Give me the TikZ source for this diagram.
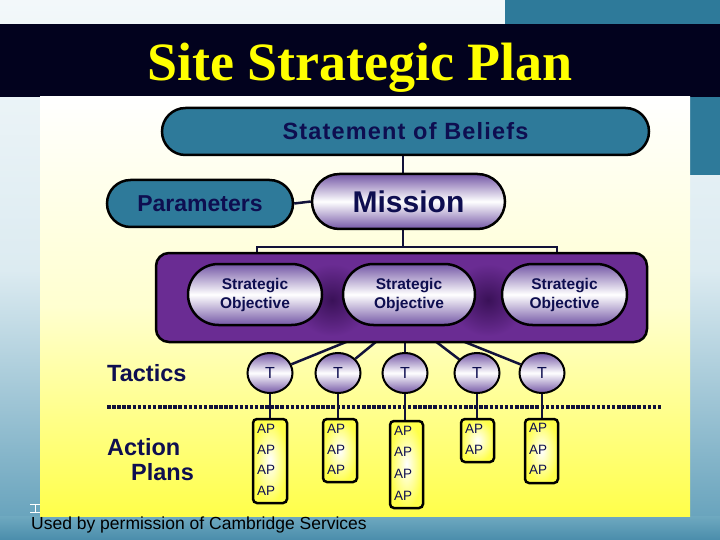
\documentclass[tikz,border=0pt]{standalone}
\usepackage{fontspec}
\setmainfont{Liberation Sans}
\newfontfamily\titlefont{Liberation Serif}
\newfontfamily\spacedfont[LetterSpace=5]{Liberation Sans}
\usetikzlibrary{shapes.misc,shapes.geometric}
\definecolor{teal1}{HTML}{2E7A9A}
\definecolor{navybar}{HTML}{02021E}
\definecolor{txtnavy}{HTML}{0E0E50}
\definecolor{purp}{HTML}{6A2C93}
\definecolor{purpdark}{HTML}{3A1158}
\definecolor{pillp}{HTML}{7457A6}
\definecolor{linec}{HTML}{12123A}
\definecolor{apyel}{HTML}{FFFF4A}
\definecolor{titley}{HTML}{FFFF00}
\definecolor{bgtop}{HTML}{F3F8FA}
\definecolor{bgmid}{HTML}{DCEBF1}
\definecolor{bgbot}{HTML}{5E9DB8}
\definecolor{stripa}{HTML}{6FA9C0}
\definecolor{stripb}{HTML}{4A8DAB}
\definecolor{panelmid}{HTML}{FFFFD0}
\pgfdeclarelayer{bg}
\pgfdeclarelayer{conn}
\pgfsetlayers{bg,conn,main}
\tikzset{
  tealpill/.style={rounded rectangle, draw=black, line width=2.5pt, fill=teal1, inner sep=0pt,
    text=txtnavy, font=\bfseries\fontsize{23}{26}\selectfont},
  purppill/.style={rounded rectangle, draw=black, line width=2.5pt, inner sep=0pt,
    top color=pillp, bottom color=pillp, middle color=white, text=txtnavy},
  sobj/.style={purppill, minimum height=61pt, align=center,
    font=\bfseries\fontsize{15.5}{19}\selectfont},
  tcirc/.style={ellipse, draw=black, line width=2pt, inner sep=0pt, minimum width=45pt, minimum height=40pt,
    top color=pillp, bottom color=pillp, middle color=white, text=txtnavy, font=\fontsize{16}{18}\selectfont},
  apbox/.style={rectangle, rounded corners=4pt, draw=black, line width=2.5pt, inner sep=0pt,
    inner color=white, outer color=apyel},
  aptext/.style={anchor=west, inner sep=0pt, text=txtnavy, font=\fontsize{13.5}{15}\selectfont},
  conn/.style={draw=linec, line width=2.5pt},
  sidelabel/.style={anchor=west, inner sep=0pt, text=txtnavy, font=\bfseries\fontsize{23.5}{26}\selectfont},
  dotline/.style={draw=linec, line width=3.5pt, dash pattern=on 3.5pt off 1.6pt}
}
\begin{document}
\begin{tikzpicture}[x=1pt,y=-1pt]
\useasboundingbox (0,0) rectangle (720,540);
\begin{pgfonlayer}{bg}
  \shade[top color=bgtop, bottom color=bgbot, middle color=bgmid] (0,0) rectangle (720,540);
  \fill[teal1] (505,0) rectangle (720,24);
  \fill[teal1] (690,97) rectangle (720,175);
  \shade[top color=stripa, bottom color=stripb] (0,516) rectangle (720,540);
  \fill[navybar] (0,24) rectangle (720,97);
  \shade[top color=white, bottom color=apyel, middle color=panelmid] (40,97) rectangle (690,516);
  \draw[white, line width=0.8pt] (30,504) -- (40,504) (30,512) -- (40,512) (35,504) -- (35,512);
\end{pgfonlayer}
% title
\node[anchor=base, inner sep=0pt, text=titley, font=\titlefont\bfseries\fontsize{54}{60}\selectfont] (title) at (360,81) {Site Strategic Plan};
% top nodes
\node[tealpill, minimum width=487pt, minimum height=47pt, font=\spacedfont\bfseries\fontsize{23.5}{26}\selectfont] (sob) at (405.5,131.5) {Statement of Beliefs};
\node[tealpill, minimum width=186pt, minimum height=47pt] (param) at (200,203.5) {Parameters};
\node[purppill, minimum width=193pt, minimum height=55pt, font=\bfseries\fontsize{30}{34}\selectfont] (mission) at (408.5,201.5) {Mission};
% purple box with strategic objectives
\node[rectangle, rounded corners=13pt, draw=black, line width=2.5pt, fill=purp, minimum width=491pt, minimum height=89pt] (sobox) at (401.5,297.5) {};
\shade[inner color=purpdark, outer color=purp] (332,300) ellipse [x radius=38, y radius=36];
\shade[inner color=purpdark, outer color=purp] (488,300) ellipse [x radius=38, y radius=36];
\node[sobj, minimum width=134pt] (so1) at (255,294.5) {Strategic\\Objective};
\node[sobj, minimum width=132pt] (so2) at (409,294.5) {Strategic\\Objective};
\node[sobj, minimum width=125pt] (so3) at (564.5,294.5) {Strategic\\Objective};
% tactics
\node[tcirc] (t1) at (270,373) {T};
\node[tcirc] (t2) at (338,373) {T};
\node[tcirc] (t3) at (405,373) {T};
\node[tcirc] (t4) at (477,373) {T};
\node[tcirc] (t5) at (542,373) {T};
% side labels
\node[sidelabel] (tactics) at (107,373) {Tactics};
\node[sidelabel] (action) at (107,447) {Action};
\node[sidelabel] (plans) at (131,472) {Plans};
% action plan boxes
\node[apbox, minimum width=34pt, minimum height=84pt] (ap1) at (270,461) {};
\node[apbox, minimum width=34pt, minimum height=63pt] (ap2) at (340,450.5) {};
\node[apbox, minimum width=33pt, minimum height=87pt] (ap3) at (406.5,464.5) {};
\node[apbox, minimum width=33pt, minimum height=43pt] (ap4) at (477.5,440.5) {};
\node[apbox, minimum width=33pt, minimum height=64pt] (ap5) at (541.5,451) {};
\foreach \y [count=\i] in {429,450,470,491} \node[aptext] (apa\i) at (257,\y) {AP};
\foreach \y [count=\i] in {429,450,470} \node[aptext] (apb\i) at (327,\y) {AP};
\foreach \y [count=\i] in {431,452,474,496} \node[aptext] (apc\i) at (394,\y) {AP};
\foreach \y [count=\i] in {429,450} \node[aptext] (apd\i) at (465,\y) {AP};
\foreach \y [count=\i] in {428,450,470} \node[aptext] (ape\i) at (529,\y) {AP};
% footer
\node[anchor=west, inner sep=0pt, text=black, font=\fontsize{17.5}{20}\selectfont] (footer) at (31,525) {Used by permission of Cambridge Services};
% coordinates
\coordinate (hub) at (405,318);
\coordinate (bl) at (257,253);
\coordinate (br) at (557,253);
\coordinate (bx) at (403,247);
\coordinate (dl) at (107,407);
\coordinate (dr) at (662,407);
\begin{pgfonlayer}{conn}
  \draw[conn] (param.east) -- (mission.west);
  \draw[conn] (sob.south -| bx) -- (mission.north -| bx);
  \draw[conn] (mission.south -| bx) -- (bx);
  \draw[conn] (bl) -- (bl |- bx) -- (br |- bx) -- (br);
  \foreach \t in {t1,t2,t3,t4,t5} \draw[conn] (hub) -- (\t);
  \draw[dotline] (dl) -- (dr);
  \foreach \t/\a in {t1/ap1,t2/ap2,t3/ap3,t4/ap4,t5/ap5} \draw[conn] (\t.south) -- (\t.south |- \a.north);
\end{pgfonlayer}
\end{tikzpicture}
\end{document}
